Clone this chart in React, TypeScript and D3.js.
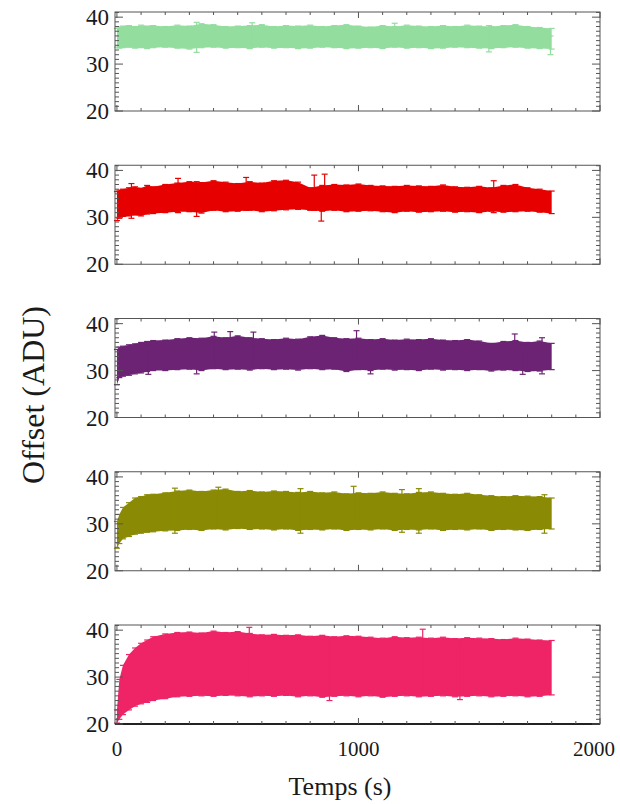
import React from "react";
import * as d3 from "d3";

const TIMES = [0, 10, 25, 50, 75, 100, 125, 150, 200, 250, 300, 350, 400, 450, 500, 550, 600, 650, 700, 750, 800, 850, 900, 950, 1000, 1050, 1100, 1150, 1200, 1250, 1300, 1350, 1400, 1450, 1500, 1550, 1600, 1650, 1700, 1750, 1800];

const GREEN_HI = [37.6, 37.9, 38.1, 38.2, 38.0, 38.3, 38.1, 38.2, 38.0, 38.3, 38.1, 38.6, 38.4, 38.0, 38.1, 38.2, 38.4, 38.0, 38.2, 38.1, 38.3, 38.0, 38.2, 38.4, 38.1, 37.9, 38.2, 38.0, 38.3, 38.1, 38.0, 38.2, 38.0, 38.3, 38.1, 38.0, 38.2, 38.4, 38.0, 37.8, 37.6];
const GREEN_LO = [33.6, 33.4, 33.5, 33.6, 33.4, 33.5, 33.3, 33.5, 33.6, 33.4, 33.2, 33.5, 33.6, 33.4, 33.5, 33.3, 33.6, 33.4, 33.5, 33.3, 33.4, 33.6, 33.5, 33.3, 33.4, 33.5, 33.3, 33.6, 33.4, 33.5, 33.3, 33.4, 33.6, 33.5, 33.4, 33.3, 33.5, 33.6, 33.4, 33.3, 33.2];
const GREEN_OUT_T = [330, 560, 1150, 1540, 1795];
const GREEN_OUT_LO = [32.5, 34.0, 34.0, 32.6, 32.0];
const GREEN_OUT_HI = [38.9, 38.8, 38.7, 38.2, 36.0];

const RED_HI = [35.5, 35.8, 36.0, 36.3, 36.5, 36.2, 36.8, 36.5, 37.0, 37.3, 37.6, 37.4, 37.8, 37.5, 37.2, 37.6, 37.3, 37.8, 37.9, 37.5, 36.3, 36.8, 37.0, 36.9, 37.1, 36.8, 36.7, 36.6, 36.8, 36.7, 36.6, 36.9, 36.5, 36.4, 36.6, 36.3, 36.8, 37.0, 36.3, 36.0, 35.6];
const RED_LO = [29.3, 29.8, 30.2, 30.3, 30.5, 30.3, 30.7, 30.8, 31.0, 31.2, 31.2, 30.9, 31.5, 31.2, 31.3, 31.5, 31.2, 31.4, 31.6, 31.7, 31.5, 31.3, 31.5, 31.2, 31.3, 31.4, 31.2, 31.0, 31.3, 31.1, 31.2, 31.3, 31.1, 31.2, 31.0, 31.3, 31.1, 31.2, 31.3, 31.1, 30.8];
const RED_OUT_T = [60, 253, 330, 535, 817, 846, 860, 1560];
const RED_OUT_LO = [29.8, 31.0, 30.2, 31.5, 31.5, 29.2, 31.8, 31.0];
const RED_OUT_HI = [37.2, 38.3, 37.6, 38.5, 39.0, 36.0, 39.2, 37.8];

const PURPLE_HI = [34.5, 35.0, 35.2, 35.5, 35.7, 36.0, 36.2, 36.4, 36.5, 36.8, 37.0, 36.9, 37.3, 37.0, 37.4, 37.0, 36.8, 36.6, 36.9, 36.7, 37.2, 37.5, 37.0, 36.8, 36.9, 36.6, 36.8, 36.5, 36.7, 36.6, 36.8, 36.5, 36.4, 36.6, 36.3, 35.8, 36.2, 36.4, 36.0, 36.3, 35.8];
const PURPLE_LO = [27.0, 28.5, 28.8, 29.0, 29.3, 29.5, 29.8, 30.0, 30.0, 30.2, 30.3, 30.0, 30.4, 30.2, 30.3, 30.1, 30.4, 30.2, 30.3, 30.1, 30.4, 30.2, 30.3, 29.8, 30.2, 30.0, 30.3, 30.1, 30.2, 30.0, 30.3, 30.1, 30.2, 30.0, 30.2, 29.9, 30.1, 30.0, 29.8, 29.9, 30.2];
const PURPLE_OUT_T = [130, 330, 403, 469, 565, 992, 1050, 1647, 1680, 1760];
const PURPLE_OUT_LO = [29.2, 29.3, 31.0, 31.0, 31.0, 31.5, 29.3, 31.0, 29.2, 29.3];
const PURPLE_OUT_HI = [35.5, 36.0, 38.2, 38.3, 38.2, 38.5, 36.0, 37.8, 35.5, 37.0];

const OLIVE_HI = [30.5, 32.0, 33.5, 34.5, 35.5, 35.8, 36.2, 36.3, 36.6, 37.0, 37.2, 36.9, 37.2, 37.4, 36.9, 37.1, 36.8, 37.0, 36.9, 36.7, 36.9, 36.6, 36.8, 36.4, 36.6, 36.5, 36.8, 36.5, 36.4, 36.7, 36.8, 36.5, 36.3, 36.5, 36.2, 36.0, 35.8, 36.0, 35.9, 35.8, 35.5];
const OLIVE_LO = [24.8, 25.8, 26.8, 27.3, 27.8, 28.0, 28.2, 28.3, 28.5, 28.6, 28.8, 28.6, 28.9, 28.7, 29.0, 28.8, 28.9, 28.7, 28.9, 28.6, 28.8, 28.7, 28.9, 28.6, 28.8, 28.7, 28.9, 28.6, 28.8, 28.7, 28.9, 28.6, 28.8, 28.7, 28.9, 28.6, 28.8, 28.7, 28.6, 28.8, 28.9];
const OLIVE_OUT_T = [240, 420, 760, 980, 1180, 1250, 1770];
const OLIVE_OUT_LO = [28.0, 29.5, 28.0, 30.0, 28.2, 28.0, 28.0];
const OLIVE_OUT_HI = [37.6, 37.8, 37.5, 38.0, 37.3, 37.5, 36.2];

const PINK_HI = [23.0, 29.5, 32.5, 34.8, 36.2, 37.2, 37.9, 38.6, 39.2, 39.5, 39.6, 39.4, 39.8, 39.5, 39.7, 39.3, 39.0, 39.1, 38.9, 39.0, 38.7, 38.9, 38.6, 38.8, 38.7, 38.5, 38.3, 38.6, 38.4, 38.5, 38.3, 38.5, 38.2, 38.4, 38.3, 38.2, 38.0, 38.3, 38.1, 37.9, 37.8];
const PINK_LO = [20.2, 21.0, 22.0, 23.0, 23.8, 24.3, 24.6, 25.0, 25.4, 25.8, 25.9, 26.0, 25.9, 26.1, 26.0, 25.8, 26.0, 25.9, 26.1, 25.8, 26.0, 25.7, 25.9, 26.0, 25.8, 26.0, 25.7, 25.9, 26.0, 25.8, 25.9, 26.0, 25.8, 25.9, 26.0, 25.8, 25.9, 26.0, 25.8, 25.9, 26.2];
const PINK_OUT_T = [548, 1266, 880, 1420];
const PINK_OUT_LO = [27.0, 27.0, 25.0, 25.2];
const PINK_OUT_HI = [40.6, 40.2, 38.0, 38.0];

const Y_TICKS = [20, 30, 40];
const X_TICKS = [0, 1000, 2000];

const PANELS = [
  { color: "#93dd9f", hi: GREEN_HI, lo: GREEN_LO, ot: GREEN_OUT_T, olo: GREEN_OUT_LO, ohi: GREEN_OUT_HI },
  { color: "#e60000", hi: RED_HI, lo: RED_LO, ot: RED_OUT_T, olo: RED_OUT_LO, ohi: RED_OUT_HI },
  { color: "#6d2373", hi: PURPLE_HI, lo: PURPLE_LO, ot: PURPLE_OUT_T, olo: PURPLE_OUT_LO, ohi: PURPLE_OUT_HI },
  { color: "#8a8a04", hi: OLIVE_HI, lo: OLIVE_LO, ot: OLIVE_OUT_T, olo: OLIVE_OUT_LO, ohi: OLIVE_OUT_HI },
  { color: "#ee2467", hi: PINK_HI, lo: PINK_LO, ot: PINK_OUT_T, olo: PINK_OUT_LO, ohi: PINK_OUT_HI },
];

const W = 620;
const H = 804;
const LEFT = 115;
const RIGHT = 600;
const TOP0 = 12;
const STEP = 153.25;
const PH = 99;
const FONT = "Liberation Serif, DejaVu Serif, serif";

export default function App() {
  const x = d3.scaleLinear().domain([-8, 2000]).range([LEFT, RIGHT]);
  const y = d3.scaleLinear().domain([20, 41.1]).range([PH, 0]);
  const minorX = d3.range(0, 2001, 100);
  const minorY = d3.range(20, 42, 1);
  const axisColor = "#555";
  const txt = { fontFamily: FONT, fill: "#1a1a1a" } as React.CSSProperties;

  return (
    <svg width={W} height={H} style={{ position: "absolute", left: 0, top: 0, background: "#fff" }}>
      <rect width={W} height={H} fill="#fff" />
      {PANELS.map((p, k) => {
        const top = TOP0 + STEP * k;
        const a = d3
          .area<number>()
          .x((_, i) => x(TIMES[i]))
          .y0((_, i) => y(p.lo[i]))
          .y1((_, i) => y(p.hi[i]))
          .curve(d3.curveLinear);
        return (
          <g key={k} transform={`translate(0,${top})`}>
            <path d={a(TIMES) || ""} fill={p.color} />
            {TIMES.map((t, i) => (
              <g key={i} stroke={p.color} strokeWidth={1.2}>
                <line x1={x(t) - 3} x2={x(t) + 3} y1={y(p.hi[i])} y2={y(p.hi[i])} />
                <line x1={x(t) - 3} x2={x(t) + 3} y1={y(p.lo[i])} y2={y(p.lo[i])} />
              </g>
            ))}
            {p.ot.map((t, i) => (
              <g key={"o" + i} stroke={p.color} strokeWidth={1.2}>
                <line x1={x(t)} x2={x(t)} y1={y(p.olo[i])} y2={y(p.ohi[i])} />
                <line x1={x(t) - 3} x2={x(t) + 3} y1={y(p.ohi[i])} y2={y(p.ohi[i])} />
                <line x1={x(t) - 3} x2={x(t) + 3} y1={y(p.olo[i])} y2={y(p.olo[i])} />
              </g>
            ))}
            <rect x={LEFT} y={0} width={RIGHT - LEFT} height={PH} fill="none" stroke={axisColor} strokeWidth={1} />
            {k === 4 && <line x1={LEFT} x2={RIGHT} y1={PH} y2={PH} stroke="#222" strokeWidth={2} />}
            {minorX.map((v) => (
              <g key={"tx" + v} stroke={axisColor} strokeWidth={1}>
                <line x1={x(v)} x2={x(v)} y1={0} y2={X_TICKS.includes(v) ? 6 : 3} />
                <line x1={x(v)} x2={x(v)} y1={PH} y2={PH - (X_TICKS.includes(v) ? 6 : 3)} />
              </g>
            ))}
            {minorY.map((v) => {
              const major = Y_TICKS.includes(v);
              const len = major ? 8 : 4;
              return (
                <g key={"ty" + v} stroke={axisColor} strokeWidth={1}>
                  <line x1={LEFT} x2={LEFT + len} y1={y(v)} y2={y(v)} />
                  <line x1={RIGHT} x2={RIGHT - len} y1={y(v)} y2={y(v)} />
                </g>
              );
            })}
            {Y_TICKS.map((v) => (
              <text key={"yl" + v} x={109} y={y(v) + 8} textAnchor="end" fontSize={23} style={txt}>
                {v}
              </text>
            ))}
          </g>
        );
      })}
      {X_TICKS.map((v) => (
        <text key={"xl" + v} x={Math.min(x(v), 594)} y={756} textAnchor="middle" fontSize={21} style={txt}>
          {v}
        </text>
      ))}
      <text x={340} y={795} textAnchor="middle" fontSize={26} style={txt}>
        Temps (s)
      </text>
      <text transform={`translate(44,395) rotate(-90)`} textAnchor="middle" fontSize={32} style={txt}>
        Offset (ADU)
      </text>
    </svg>
  );
}
